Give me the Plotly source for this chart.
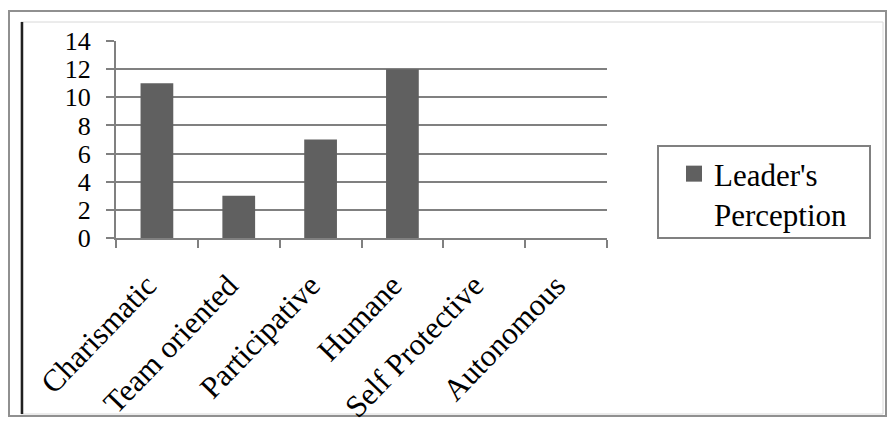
import plotly.graph_objects as go

categories = ["Charismatic", "Team oriented", "Participative", "Humane", "Self Protective", "Autonomous"]
values = [11, 3, 7, 12, 0, 0]
series_name = "Leader's<br>Perception"
y_ticks = [0, 2, 4, 6, 8, 10, 12, 14]
bar_color = "#606060"

W, H = 888, 423
L, R, T, B = 116, 281, 41, 185
PW, PH = W - L - R, H - T - B

def px(x):
    return (x - L) / PW

def py(y):
    return (H - B - y) / PH

fig = go.Figure()
fig.add_trace(go.Bar(x=categories, y=values, name=series_name, showlegend=False,
                     marker=dict(color=bar_color, line=dict(width=0)), width=0.4))
# legend entry (square swatch like the reference)
fig.add_trace(go.Scatter(x=[None], y=[None], mode="markers", name=series_name,
                         marker=dict(symbol="square", size=16, color=bar_color)))

shapes = [
    dict(type="rect", xref="paper", yref="paper", x0=px(9), x1=px(886), y0=py(416), y1=py(11),
         line=dict(color="#909090", width=2), layer="below"),
    dict(type="rect", xref="paper", yref="paper", x0=px(21), x1=px(883), y0=py(414), y1=py(22),
         line=dict(color="#d8d8d8", width=1), layer="below"),
    dict(type="line", xref="paper", yref="paper", x0=px(22), x1=px(22), y0=py(414), y1=py(22),
         line=dict(color="#202020", width=2.5)),
    # legend box
    dict(type="rect", xref="paper", yref="paper", x0=px(658), x1=px(870), y0=py(238), y1=py(146),
         line=dict(color="#808080", width=2), layer="above"),
]

fig.update_layout(
    width=W, height=H,
    margin=dict(l=L, r=R, t=T, b=B, autoexpand=False),
    paper_bgcolor="white", plot_bgcolor="white",
    font=dict(family="Liberation Serif", color="black"),
    shapes=shapes,
    showlegend=True,
    legend=dict(x=px(674), y=py(147), xanchor="left", yanchor="top",
                borderwidth=0, bgcolor="rgba(0,0,0,0)",
                font=dict(family="Liberation Serif", size=31, color="black"),
                itemwidth=30, valign="top"),
    xaxis=dict(type="category", tickangle=-46, tickfont=dict(size=31),
               showline=True, linecolor="#808080", linewidth=2,
               ticks="outside", ticklen=8, tickcolor="#808080", tickwidth=2,
               tickson="boundaries", showgrid=False, ticklabelstandoff=15,
               ticklabelshift=-10, automargin=False),
    yaxis=dict(range=[0, 14], tickvals=y_ticks, tickfont=dict(size=26),
               showline=True, linecolor="#808080", linewidth=2,
               ticks="outside", ticklen=8, tickcolor="#808080", tickwidth=2,
               showgrid=True, gridcolor="#808080", gridwidth=2, zeroline=False,
               ticklabelstandoff=10, automargin=False),
    bargap=0.6,
)

fig.write_html("out.html")
